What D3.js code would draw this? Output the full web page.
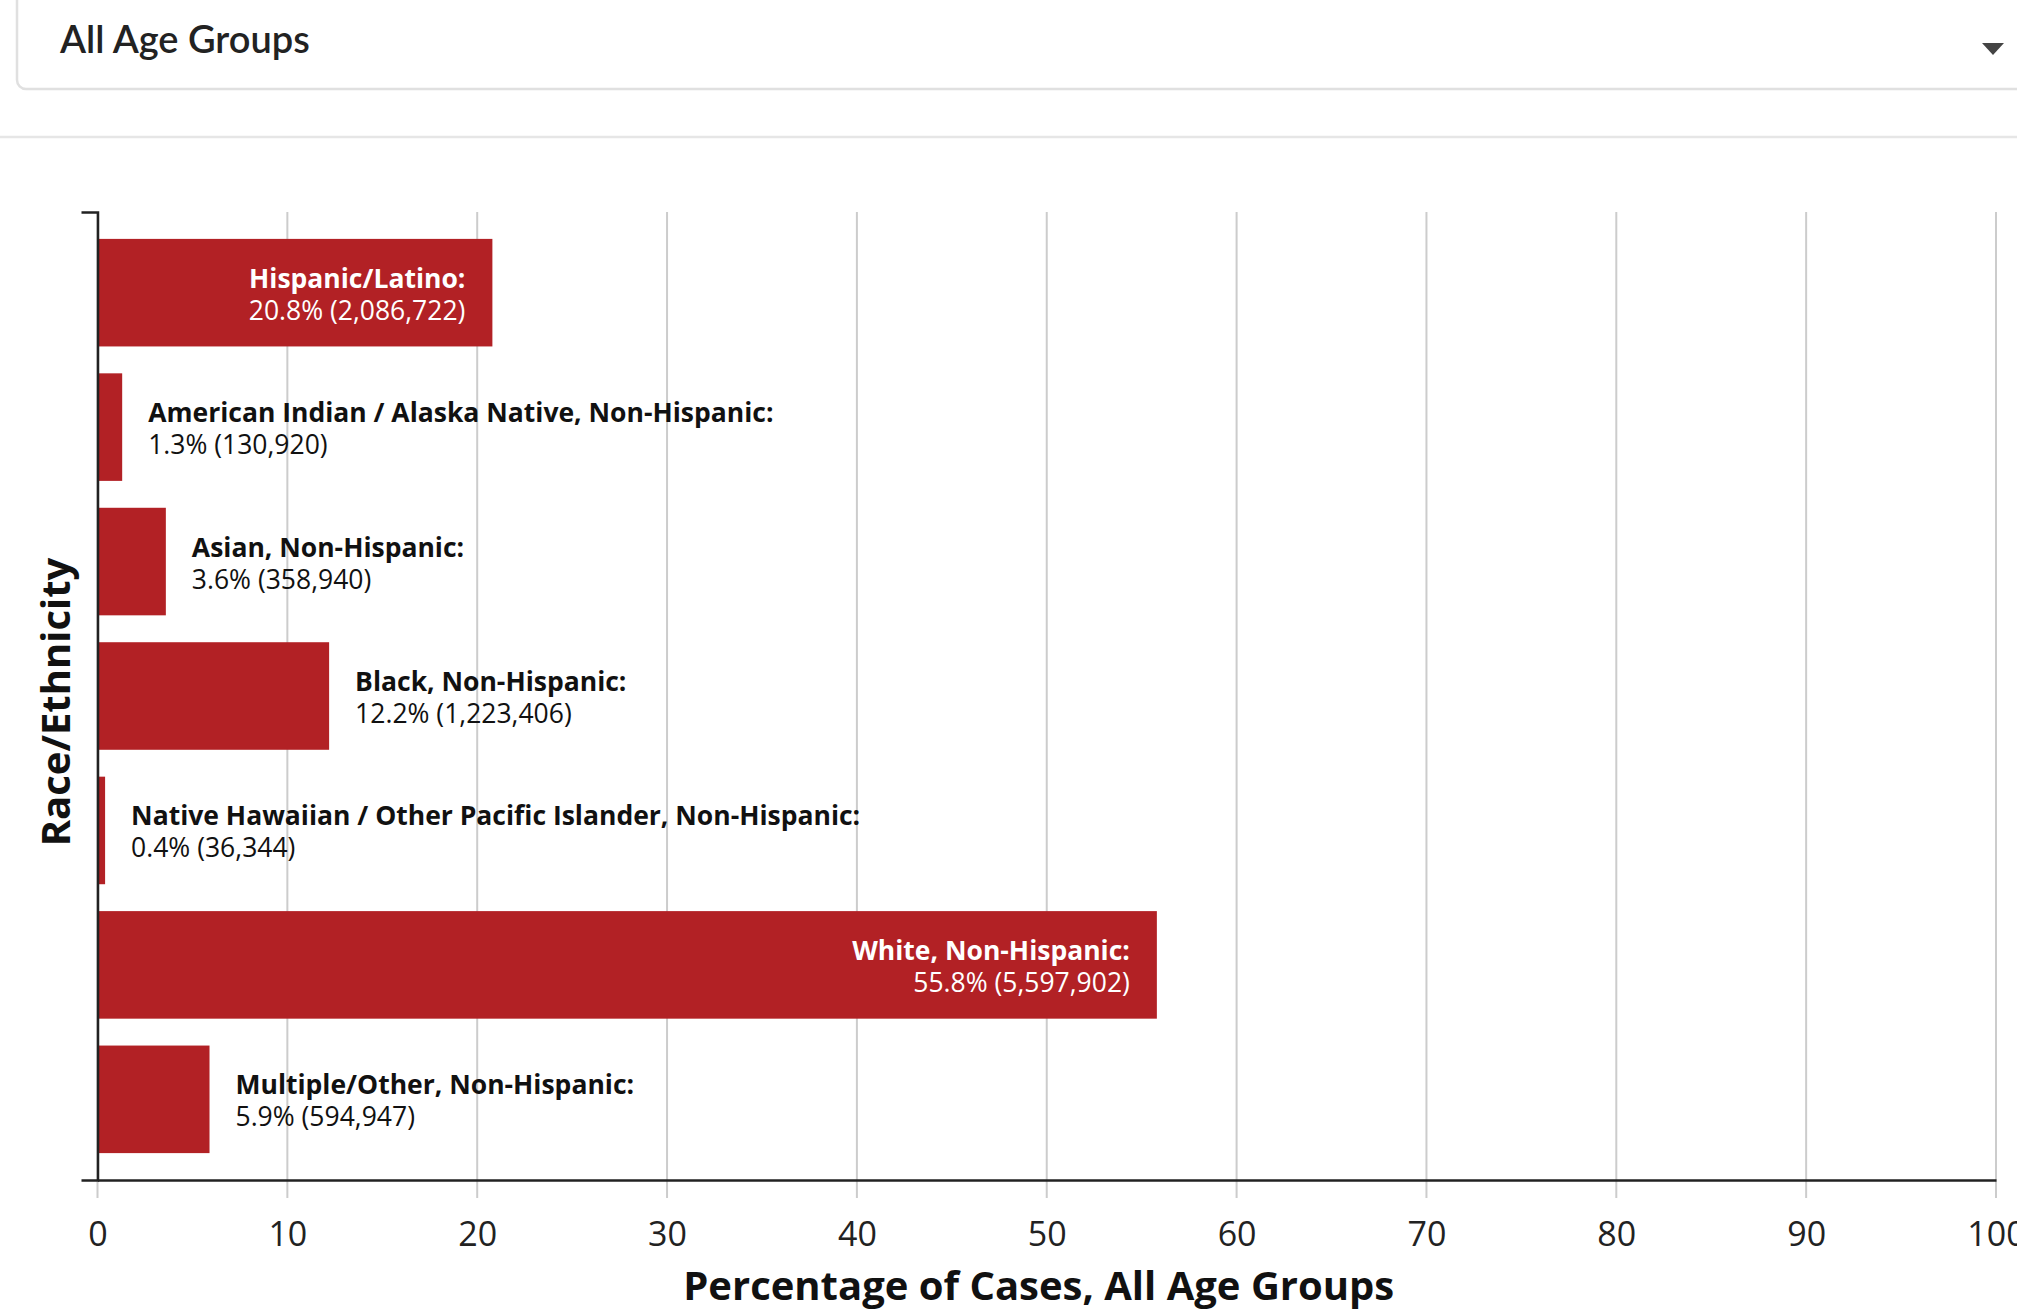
<!DOCTYPE html>
<html>
<head>
<meta charset="utf-8">
<script src="https://cdn.jsdelivr.net/npm/d3@7"></script>
<style>
  html, body { margin: 0; padding: 0; background: #fff; }
  svg { display: block; }
</style>
</head>
<body>
<svg id="chart" width="2017" height="1311"></svg>
<script>
const categories = [
  "Hispanic/Latino",
  "American Indian / Alaska Native, Non-Hispanic",
  "Asian, Non-Hispanic",
  "Black, Non-Hispanic",
  "Native Hawaiian / Other Pacific Islander, Non-Hispanic",
  "White, Non-Hispanic",
  "Multiple/Other, Non-Hispanic"
];
const percents = [20.8, 1.3, 3.6, 12.2, 0.4, 55.8, 5.9];
const counts = ["2,086,722", "130,920", "358,940", "1,223,406", "36,344", "5,597,902", "594,947"];
const xTicks = [0, 10, 20, 30, 40, 50, 60, 70, 80, 90, 100];
const dropdownLabel = "All Age Groups";
const xTitle = "Percentage of Cases, All Age Groups";
const yTitle = "Race/Ethnicity";

(function () {
const data = categories.map((c, i) => ({ name: c, pct: percents[i], count: counts[i] }));

const svg = d3.select("#chart");
const W = 2017;
const barColor = "#b22125";

// Dropdown header
svg.append("rect")
  .attr("x", 17).attr("y", -30)
  .attr("width", 2060).attr("height", 119)
  .attr("rx", 9).attr("ry", 9)
  .attr("fill", "#fff").attr("stroke", "#e0e0e0").attr("stroke-width", 2.5);
svg.append("text")
  .attr("x", 60).attr("y", 53)
  .attr("font-family", "Lato, 'Open Sans', sans-serif")
  .attr("font-weight", 600)
  .attr("font-size", 38)
  .attr("fill", "#222")
  .text(dropdownLabel);
svg.append("path")
  .attr("d", "M1982,43 L2004,43 L1993,55 Z")
  .attr("fill", "#444");
svg.append("line")
  .attr("x1", 0).attr("x2", W).attr("y1", 137).attr("y2", 137)
  .attr("stroke", "#e6e6e6").attr("stroke-width", 2.5);

// Chart
const pLeft = 97.5, pRight = 1996, pTop = 212, pBottom = 1180;
const x = d3.scaleLinear().domain([0, 100]).range([pLeft, pRight]);
const y = d3.scaleBand().domain(categories).range([pTop, pBottom]).paddingInner(0.2).paddingOuter(0.2);

// gridlines
svg.append("g").selectAll("line").data(xTicks).join("line")
  .attr("x1", d => x(d)).attr("x2", d => x(d))
  .attr("y1", pTop).attr("y2", pBottom + 18)
  .attr("stroke", "#cccccc").attr("stroke-width", 2);

// bars
svg.append("g").selectAll("rect").data(data).join("rect")
  .attr("x", x(0)).attr("y", d => y(d.name))
  .attr("width", d => x(d.pct) - x(0))
  .attr("height", y.bandwidth())
  .attr("fill", barColor);

// x axis
const xAxis = d3.axisBottom(x).tickValues(xTicks).tickSize(0).tickSizeOuter(0).tickPadding(42).tickFormat(d3.format("d"));
const gx = svg.append("g").attr("transform", `translate(0,${pBottom})`).call(xAxis);
gx.select(".domain").attr("stroke", "#222").attr("stroke-width", 2.5);
gx.selectAll("text")
  .attr("font-family", "'Open Sans', sans-serif")
  .attr("font-size", 34)
  .attr("fill", "#222");

// y axis
const yAxis = d3.axisLeft(y).tickValues([]).tickSizeOuter(16);
const gy = svg.append("g").attr("transform", `translate(${pLeft},0)`).call(yAxis);
gy.select(".domain").attr("stroke", "#222").attr("stroke-width", 2.5).attr("fill", "none");

// labels
const lg = svg.append("g").attr("font-family", "'Open Sans', sans-serif").attr("font-size", 26.5);
data.forEach(d => {
  const cy = y(d.name) + y.bandwidth() / 2;
  const t = lg.append("text").attr("y", cy - 5);
  t.append("tspan").attr("x", 0).attr("font-weight", 700).text(d.name + ":");
  t.append("tspan").attr("x", 0).attr("dy", 32).attr("font-weight", 400).text(`${d.pct.toFixed(1)}% (${d.count})`);
  const bb = t.node().getBBox();
  const barW = x(d.pct) - x(0);
  if (barW > bb.width + 40) {
    t.attr("text-anchor", "end").attr("fill", "#fff");
    t.selectAll("tspan").attr("x", x(d.pct) - 27);
  } else {
    t.attr("text-anchor", "start").attr("fill", "#111");
    t.selectAll("tspan").attr("x", x(d.pct) + 26);
  }
});

// axis titles
svg.append("text")
  .attr("x", (pLeft + pRight) / 2 - 8).attr("y", 1300)
  .attr("text-anchor", "middle")
  .attr("font-family", "'Open Sans', sans-serif")
  .attr("font-weight", 700).attr("font-size", 40)
  .attr("fill", "#111")
  .text(xTitle);
svg.append("text")
  .attr("transform", `translate(70,${(pTop + pBottom) / 2 + 6}) rotate(-90)`)
  .attr("text-anchor", "middle")
  .attr("font-family", "'Open Sans', sans-serif")
  .attr("font-weight", 700).attr("font-size", 40)
  .attr("fill", "#111")
  .text(yTitle);
})();
</script>
</body>
</html>
